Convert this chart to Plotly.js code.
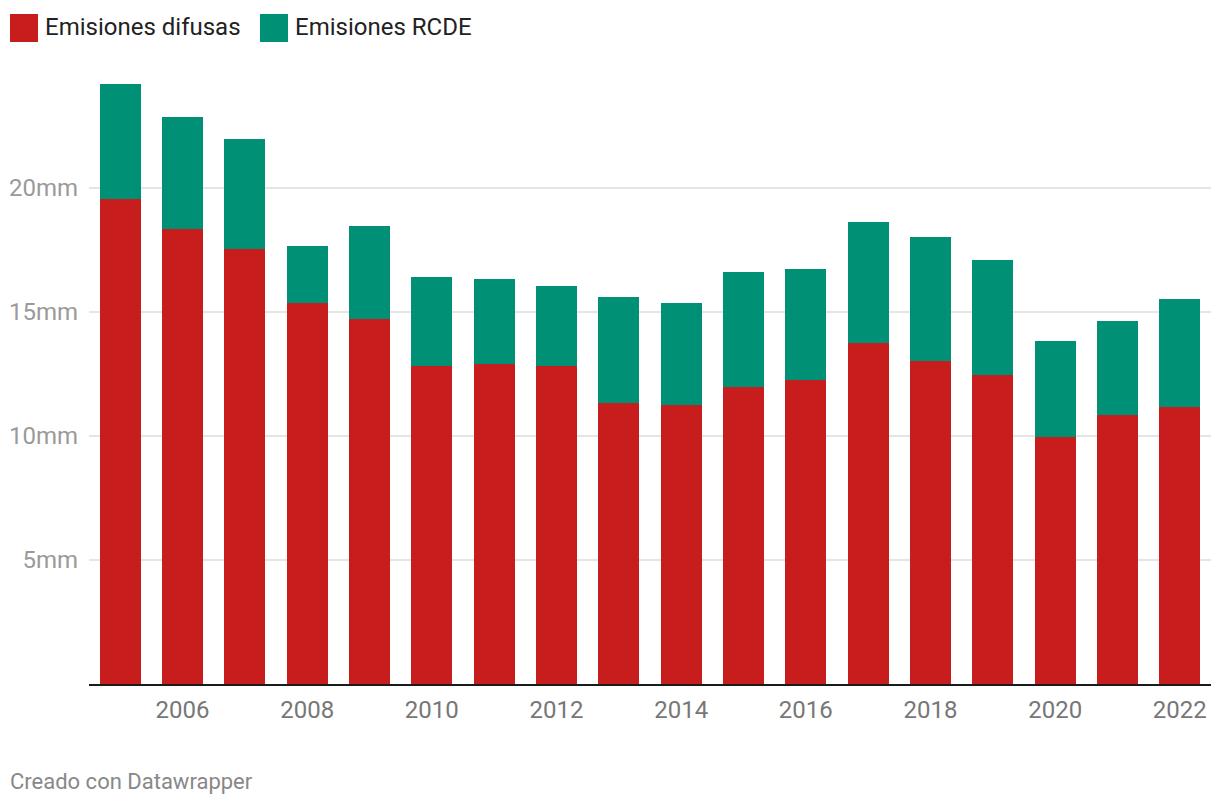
<!DOCTYPE html>
<html>
<head>
<meta charset="utf-8">
<script src="https://cdn.plot.ly/plotly-3.0.1.min.js"></script>
<style>
html,body{margin:0;padding:0;background:#fff;}
#chart{width:1220px;height:808px;}
</style>
</head>
<body>
<div id="chart"></div>
<script>
const years = [2005,2006,2007,2008,2009,2010,2011,2012,2013,2014,2015,2016,2017,2018,2019,2020,2021,2022];
const difusas = [19.56,18.35,17.54,15.36,14.72,12.82,12.90,12.82,11.33,11.25,11.98,12.26,13.75,13.02,12.46,9.96,10.85,11.17];
const totales = [24.19,22.86,21.98,17.66,18.47,16.41,16.33,16.05,15.60,15.36,16.61,16.73,18.63,18.02,17.10,13.83,14.64,15.52];
const rcde = totales.map((t,i)=>+(t-difusas[i]).toFixed(2));
const seriesNames = ["Emisiones difusas","Emisiones RCDE"];
const seriesColors = ["#c71e1d","#009076"];
const xTicks = [2006,2008,2010,2012,2014,2016,2018,2020,2022];
const yTicks = [5,10,15,20];
const yTickText = ["5mm","10mm","15mm","20mm"];
const footer = "Creado con Datawrapper";

const font = "Roboto, 'Noto Sans', sans-serif";

const traces = [
  {type:"bar", x:years, y:difusas, name:seriesNames[0], marker:{color:seriesColors[0]}, hoverinfo:"x+y"},
  {type:"bar", x:years, y:rcde, name:seriesNames[1], marker:{color:seriesColors[1]}, hoverinfo:"x+y"}
];

// custom legend
const shapes = [];
const annotations = [];
const legendX = [10, 260];
seriesNames.forEach((n,i)=>{
  shapes.push({type:"rect", xref:"paper", yref:"paper",
    x0:(legendX[i]-89)/1122, x1:(legendX[i]+28-89)/1122,
    y0:(684-42)/620, y1:(684-14)/620,
    fillcolor:seriesColors[i], line:{width:0}});
  annotations.push({xref:"paper", yref:"paper", x:(legendX[i]+33-89)/1122, y:(684-27)/620,
    xanchor:"left", yanchor:"middle", showarrow:false, text:n,
    font:{family:font, size:24, color:"#222"}});
});
annotations.push({xref:"paper", yref:"paper", x:(8-89)/1122, y:(684-782)/620,
  xanchor:"left", yanchor:"middle", showarrow:false, text:footer,
  font:{family:font, size:22, color:"#888"}});

const layout = {
  width:1220, height:808,
  margin:{l:89, r:9, t:64, b:124},
  paper_bgcolor:"#fff", plot_bgcolor:"#fff",
  barmode:"stack", bargap:0.34,
  showlegend:false,
  font:{family:font},
  xaxis:{
    range:[2004.5,2022.5], tickvals:xTicks, ticks:"", showgrid:false,
    showline:true, linecolor:"#1a1a1a", linewidth:2,
    tickfont:{family:font, size:24, color:"#777"}, ticklabelstandoff:3,
    zeroline:false, fixedrange:true
  },
  yaxis:{
    range:[0,25], tickvals:yTicks, ticktext:yTickText, ticks:"",
    showgrid:true, gridcolor:"#e5e5e5", gridwidth:1.5,
    zeroline:false, showline:false,
    tickfont:{family:font, size:24, color:"#9a9a9a"}, ticklabelstandoff:10,
    fixedrange:true
  },
  shapes:shapes,
  annotations:annotations
};

Plotly.newPlot("chart", traces, layout, {displayModeBar:false, staticPlot:true});
</script>
</body>
</html>
